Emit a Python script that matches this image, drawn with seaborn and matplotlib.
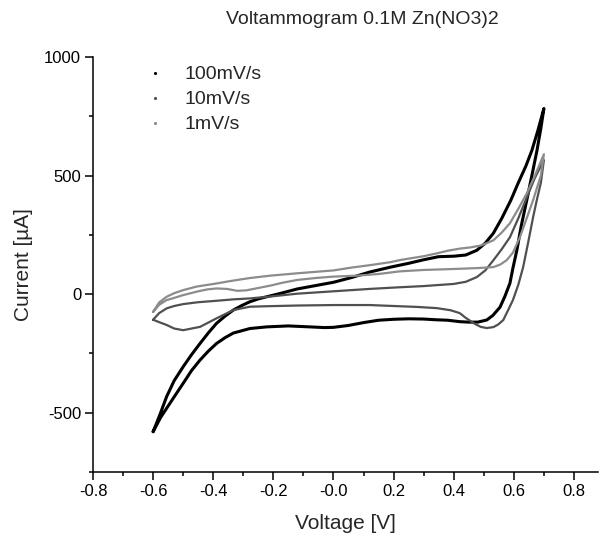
import numpy as np
import pandas as pd
import matplotlib
matplotlib.use("Agg")
import matplotlib.pyplot as plt
from matplotlib.lines import Line2D
from matplotlib.ticker import MultipleLocator
import seaborn as sns

# ---- data ----
labels = ["100mV/s", "10mV/s", "1mV/s"]

# 100 mV/s : loop -0.6 -> 0.7 (upper branch) -> back to -0.6 (lower branch)
v100 = [-0.600, -0.578, -0.555, -0.530, -0.500, -0.472, -0.444, -0.416, -0.389, -0.360,
        -0.333, -0.305, -0.278, -0.250, -0.222, -0.180, -0.120, -0.060, 0.000, 0.060,
        0.120, 0.190, 0.250, 0.300, 0.350, 0.400, 0.440, 0.477, 0.505, 0.532,
        0.560, 0.590, 0.615, 0.640, 0.660, 0.680, 0.700,
        0.690, 0.677, 0.660, 0.643, 0.625, 0.610, 0.597, 0.587, 0.570, 0.554,
        0.530, 0.510, 0.480, 0.450, 0.420, 0.380, 0.340, 0.300, 0.250, 0.200,
        0.150, 0.100, 0.050, 0.000, -0.030, -0.080, -0.150, -0.222, -0.278, -0.333,
        -0.360, -0.389, -0.416, -0.444, -0.472, -0.500, -0.544, -0.575, -0.600]
i100 = [-580, -510, -432, -365, -306, -255, -208, -163, -123, -92,
        -67, -48, -32, -20, -11, 2, 22, 36, 50, 70,
        93, 114, 130, 145, 158, 160, 165, 185, 215, 257,
        320, 396, 470, 540, 606, 690, 783,
        700, 606, 500, 396, 290, 185, 110, 46, -10, -55,
        -90, -109, -118, -118, -116, -110, -108, -105, -104, -106,
        -110, -120, -132, -140, -141, -138, -134, -138, -145, -164,
        -183, -208, -240, -278, -322, -376, -460, -520, -580]

# 10 mV/s
v10 = [-0.600, -0.580, -0.555, -0.530, -0.500, -0.450, -0.389, -0.333, -0.278, -0.210,
       -0.120, 0.000, 0.120, 0.220, 0.300, 0.344, 0.400, 0.440, 0.477, 0.505,
       0.532, 0.560, 0.587, 0.615, 0.643, 0.670, 0.700,
       0.690, 0.677, 0.664, 0.648, 0.631, 0.615, 0.597, 0.580, 0.565, 0.548,
       0.532, 0.510, 0.490, 0.470, 0.440, 0.420, 0.390, 0.344, 0.280, 0.220,
       0.120, 0.000, -0.120, -0.222, -0.278, -0.333, -0.389, -0.444, -0.500, -0.530,
       -0.555, -0.580, -0.600]
i10 = [-108, -80, -60, -50, -42, -34, -28, -22, -18, -10,
       2, 12, 22, 29, 34, 38, 43, 52, 72, 100,
       143, 190, 240, 320, 408, 490, 565,
       470, 400, 324, 220, 114, 40, -25, -70, -109, -128,
       -139, -143, -138, -125, -100, -80, -68, -59, -54, -51,
       -46, -46, -48, -51, -53, -67, -102, -138, -152, -145,
       -130, -118, -108]

# 1 mV/s
v1 = [-0.600, -0.580, -0.555, -0.530, -0.500, -0.455, -0.389, -0.344, -0.278, -0.210,
      -0.120, -0.050, 0.000, 0.060, 0.120, 0.190, 0.222, 0.300, 0.344, 0.380,
      0.420, 0.455, 0.490, 0.510, 0.532, 0.560, 0.587, 0.615, 0.643, 0.670, 0.700,
      0.690, 0.664, 0.640, 0.620, 0.597, 0.576, 0.555, 0.532, 0.480, 0.420,
      0.350, 0.300, 0.220, 0.150, 0.080, 0.000, -0.060, -0.120, -0.170, -0.210,
      -0.250, -0.290, -0.320, -0.354, -0.389, -0.420, -0.450, -0.500, -0.533, -0.555,
      -0.580, -0.600]
i1 = [-75, -35, -11, 4, 17, 32, 45, 55, 68, 78,
      88, 95, 100, 112, 122, 135, 144, 160, 172, 183,
      192, 197, 205, 215, 227, 260, 299, 360, 425, 500, 590,
      500, 396, 310, 240, 175, 143, 125, 114, 110, 107,
      104, 102, 96, 85, 78, 74, 68, 60, 48, 36,
      26, 16, 14, 22, 24, 20, 12, -4, -17, -25,
      -45, -75]

colors = ["#000000", "#505050", "#8c8c8c"]
widths = [2.2, 1.6, 1.6]

series = [(v100, i100), (v10, i10), (v1, i1)]

sns.set_theme(style="ticks")
plt.rcParams["font.family"] = ["Liberation Sans", "DejaVu Sans"]
plt.rcParams["axes.unicode_minus"] = False

fig = plt.figure(figsize=(6.03, 5.38), dpi=100)
ax = fig.add_axes([93 / 603, 66 / 538, 505 / 603, 415 / 538])

for (v, i), c, w in zip(series, colors, widths):
    df = pd.DataFrame({"V": v, "I": i})
    sns.lineplot(data=df, x="V", y="I", sort=False, estimator=None, color=c,
                 linewidth=w, ax=ax, solid_joinstyle="round", solid_capstyle="round")

ax.set_xlim(-0.8, 0.88)
ax.set_ylim(-750, 1000)
xt = np.round(np.arange(-0.8, 0.81, 0.2), 1)
ax.set_xticks(xt)
ax.set_xticklabels([f"{t:.1f}" for t in xt])
ax.xaxis.set_minor_locator(MultipleLocator(0.1))
ax.set_yticks([-500, 0, 500, 1000])
ax.set_yticklabels(["-500", "0", "500", "1000"])
ax.yaxis.set_minor_locator(MultipleLocator(250))

for s in ["top", "right"]:
    ax.spines[s].set_visible(False)
for s in ["left", "bottom"]:
    ax.spines[s].set_linewidth(1.1)
    ax.spines[s].set_color("black")
ax.tick_params(which="major", direction="out", length=5.5, width=1.1, labelsize=12,
               colors="black", pad=3)
ax.tick_params(which="minor", direction="out", length=3, width=1.1, colors="black")

ax.set_xlabel("Voltage [V]", fontsize=15, labelpad=11)
ax.set_ylabel("Current [\u00b5A]", fontsize=15, labelpad=8)

fig.text(362 / 603, 1 - 20 / 538, "Voltammogram 0.1M Zn(NO3)2", ha="center", va="center",
         fontsize=14)

handles = [Line2D([], [], marker=".", linestyle="none", color=c, markersize=2.5) for c in colors]
ax.legend(handles, labels, loc="upper left", bbox_to_anchor=(0.084, 0.979), frameon=False,
          fontsize=14, handletextpad=0.5, labelspacing=0.38, borderaxespad=0, borderpad=0)

fig.savefig("out.png", dpi=100)
